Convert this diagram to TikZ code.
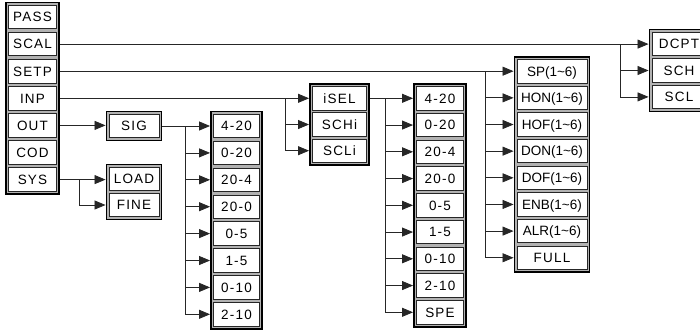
\documentclass[tikz,border=0pt]{standalone}
\usepackage{fontspec}
\setmainfont{Liberation Sans}[LetterSpace=9]
\usetikzlibrary{arrows.meta,fit}
\pgfdeclarelayer{background}
\pgfsetlayers{background,main}
\begin{document}
\begin{tikzpicture}[x=1pt,y=-1pt,
 cell/.style={draw=black!85, fill=white, line width=0.9pt, inner sep=0pt, minimum height=23.5pt,
   font=\fontsize{13.5}{14}\selectfont, text height=9.6pt, text depth=0pt},
 tight/.style={font=\fontsize{13.5}{14}\selectfont\addfontfeature{LetterSpace=0}},
 frame/.style={draw=black, fill=black!30, line width=1.6pt, inner sep=2.2pt},
 conn/.style={draw=black!85, line width=0.8pt},
 arr/.style={conn, -{Triangle[length=11pt,width=9pt]}},
]
\useasboundingbox (0,0) rectangle (700,329);

% main column
\foreach \nm [count=\i from 0] in {PASS,SCAL,SETP,INP,OUT,COD,SYS}
  \node[cell, minimum width=48pt] (\nm) at (32.5,{17+27.1*\i}) {\nm};
% SIG
\node[cell, minimum width=50pt] (SIG) at (134,126) {SIG};
% LOAD / FINE
\node[cell, minimum width=50pt] (LOAD) at (134,179) {LOAD};
\node[cell, minimum width=50pt] (FINE) at (134,205) {FINE};
% SIG list
\foreach \t [count=\i from 0] in {4-20,0-20,20-4,20-0,0-5,1-5,0-10,2-10}
  \node[cell, minimum width=46pt] (o\i) at (236.5,{126+26.9*\i}) {\t};
% iSEL column
\node[cell, minimum width=54pt] (iSEL) at (339.5,98.3) {iSEL};
\node[cell, minimum width=54pt] (SCHi) at (339.5,124.5) {SCHi};
\node[cell, minimum width=54pt] (SCLi) at (339.5,150.7) {SCLi};
% input list
\foreach \t [count=\i from 0] in {4-20,0-20,20-4,20-0,0-5,1-5,0-10,2-10,SPE}
  \node[cell, minimum width=47pt] (r\i) at (440,{98.3+26.75*\i}) {\t};
% SETP list
\foreach \t [count=\i from 0] in {SP(1\char`~6),HON(1\char`~6),HOF(1\char`~6),DON(1\char`~6),DOF(1\char`~6),ENB(1\char`~6),ALR(1\char`~6)}
  \node[cell, tight, minimum width=70pt] (s\i) at (552,{71.2+26.65*\i}) {\t};
\node[cell, minimum width=70pt] (s7) at (552,{71.2+26.65*7}) {FULL};
% SCAL list (cut by the right edge)
\node[cell, minimum width=54pt] (DCPT) at (679,44.1) {DCPT};
\node[cell, minimum width=54pt] (SCH) at (679,70.5) {SCH};
\node[cell, minimum width=54pt] (SCL) at (679,96.9) {SCL};

% frames
\begin{pgfonlayer}{background}
\node[frame, fit=(PASS)(SYS)] (Fmain) {};
\node[frame, fit=(SIG)] (Fsig) {};
\node[frame, fit=(LOAD)(FINE)] (Fsys) {};
\node[frame, fit=(o0)(o7)] (Fout) {};
\node[frame, fit=(iSEL)(SCLi)] (Finp) {};
\node[frame, fit=(r0)(r8)] (Fsel) {};
\node[frame, fit=(s0)(s7)] (Fsetp) {};
\node[frame, fit=(DCPT)(SCL)] (Fscal) {};
\end{pgfonlayer}

% trunk coordinates
\coordinate (tD) at (620,0);
\coordinate (tS) at (485,0);
\coordinate (tI) at (285,0);
\coordinate (tO) at (185,0);
\coordinate (tR) at (385,0);
\coordinate (tY) at (79,0);

% SCAL
\draw[arr] (Fmain.east |- SCAL) -- (SCAL -| Fscal.west);
\draw[conn] (tD |- SCAL) -- (tD |- SCL);
\draw[arr] (tD |- SCH) -- (SCH -| Fscal.west);
\draw[arr] (tD |- SCL) -- (SCL -| Fscal.west);

% SETP
\draw[arr] (Fmain.east |- SETP) -- (SETP -| Fsetp.west);
\draw[conn] (tS |- SETP) -- (tS |- s7);
\foreach \i in {1,...,7}
  \draw[arr] (tS |- s\i) -- (s\i -| Fsetp.west);

% INP
\draw[arr] (Fmain.east |- INP) -- (INP -| Finp.west);
\draw[conn] (tI |- INP) -- (tI |- SCLi);
\draw[arr] (tI |- SCHi) -- (SCHi -| Finp.west);
\draw[arr] (tI |- SCLi) -- (SCLi -| Finp.west);

% iSEL list
\draw[arr] (Finp.east |- iSEL) -- (iSEL -| Fsel.west);
\draw[conn] (tR |- iSEL) -- (tR |- r8);
\foreach \i in {1,...,8}
  \draw[arr] (tR |- r\i) -- (r\i -| Fsel.west);

% OUT
\draw[arr] (Fmain.east |- OUT) -- (OUT -| Fsig.west);
\draw[arr] (Fsig.east |- SIG) -- (SIG -| Fout.west);
\draw[conn] (tO |- SIG) -- (tO |- o7);
\foreach \i in {1,...,7}
  \draw[arr] (tO |- o\i) -- (o\i -| Fout.west);

% SYS
\draw[arr] (Fmain.east |- SYS) -- (SYS -| Fsys.west);
\draw[conn] (tY |- SYS) -- (tY |- FINE);
\draw[arr] (tY |- FINE) -- (FINE -| Fsys.west);
\end{tikzpicture}
\end{document}
